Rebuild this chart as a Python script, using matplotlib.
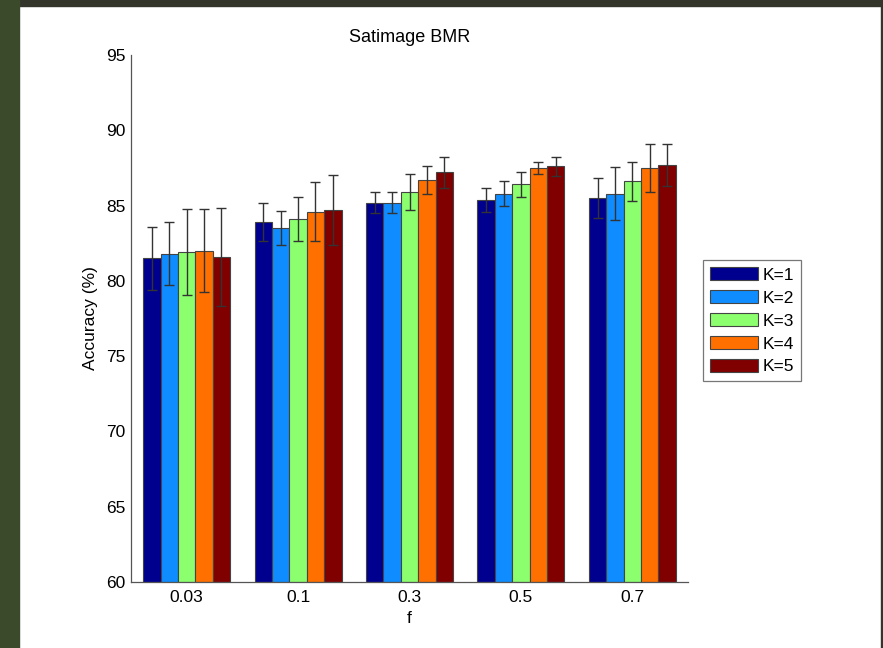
import numpy as np
import matplotlib.pyplot as plt
from matplotlib.patches import Rectangle

plt.rcParams['font.family'] = ['Liberation Sans', 'DejaVu Sans']

# Дані
f_labels = ['0.03', '0.1', '0.3', '0.5', '0.7']
k_labels = ['K=1', 'K=2', 'K=3', 'K=4', 'K=5']
acc = [
    [81.5, 83.9, 85.2, 85.4, 85.5],    # K=1
    [81.8, 83.5, 85.2, 85.8, 85.8],    # K=2
    [81.9, 84.1, 85.9, 86.4, 86.6],    # K=3
    [82.0, 84.6, 86.7, 87.5, 87.5],    # K=4
    [81.6, 84.7, 87.2, 87.6, 87.7],    # K=5
]
err = [
    [2.1, 1.25, 0.7, 0.8, 1.3],
    [2.1, 1.15, 0.7, 0.85, 1.75],
    [2.85, 1.45, 1.2, 0.85, 1.3],
    [2.75, 1.95, 0.9, 0.4, 1.6],
    [3.25, 2.3, 1.0, 0.65, 1.4],
]
colors = ['#00008f', '#0f8cff', '#8cff6e', '#ff7000', '#800000']

fig = plt.figure(figsize=(8.83, 6.48), dpi=100)
ax = fig.add_axes([131/883, 1-582/648, (688-131)/883, (582-55)/648])

# рамка навколо малюнка
fig.patches.append(Rectangle((0, 1-6/648), 1, 6/648, transform=fig.transFigure, color='#33352a', zorder=0))
fig.patches.append(Rectangle((0, 0), 19/883, 1, transform=fig.transFigure, color='#3c4a2c', zorder=0))
fig.patches.append(Rectangle((1-2/883, 0), 2/883, 1, transform=fig.transFigure, color='#33352a', zorder=0))

x = np.arange(1, len(f_labels)+1)
w = 0.156
for i in range(len(k_labels)):
    pos = x + (i-2)*w
    ax.bar(pos, np.array(acc[i]) - 60, w, bottom=60, color=colors[i],
           edgecolor='#444444', linewidth=0.8, label=k_labels[i], zorder=2)
    ax.errorbar(pos, acc[i], yerr=err[i], fmt='none', ecolor='#333333',
                elinewidth=1, capsize=3.3, capthick=1, zorder=3)

ax.set_xlim(0.5, 5.5)
ax.set_ylim(60, 95)
ax.set_yticks(range(60, 96, 5))
ax.set_xticks(x)
ax.set_xticklabels(f_labels)
ax.tick_params(length=0, labelsize=12.5)
ax.tick_params(axis='y', pad=4)
ax.tick_params(axis='x', pad=6)
ax.spines['top'].set_visible(False)
ax.spines['right'].set_visible(False)
for s in ['left', 'bottom']:
    ax.spines[s].set_color('#555555')
    ax.spines[s].set_linewidth(0.9)

ax.set_title('Satimage BMR', fontsize=13, pad=9)
ax.set_xlabel('f', fontsize=12.5, labelpad=4)
ax.set_ylabel('Accuracy (%)', fontsize=12.5, labelpad=6)

leg = ax.legend(loc='upper left', bbox_to_anchor=(703/883, 1-260/648),
                bbox_transform=fig.transFigure, borderaxespad=0, fancybox=False,
                edgecolor='#777777', fontsize=12.5, handlelength=2.75,
                handleheight=0.8, labelspacing=0.42, handletextpad=0.3,
                borderpad=0.4, framealpha=1)
leg.get_frame().set_linewidth(0.9)

fig.savefig('out.png', dpi=100)
